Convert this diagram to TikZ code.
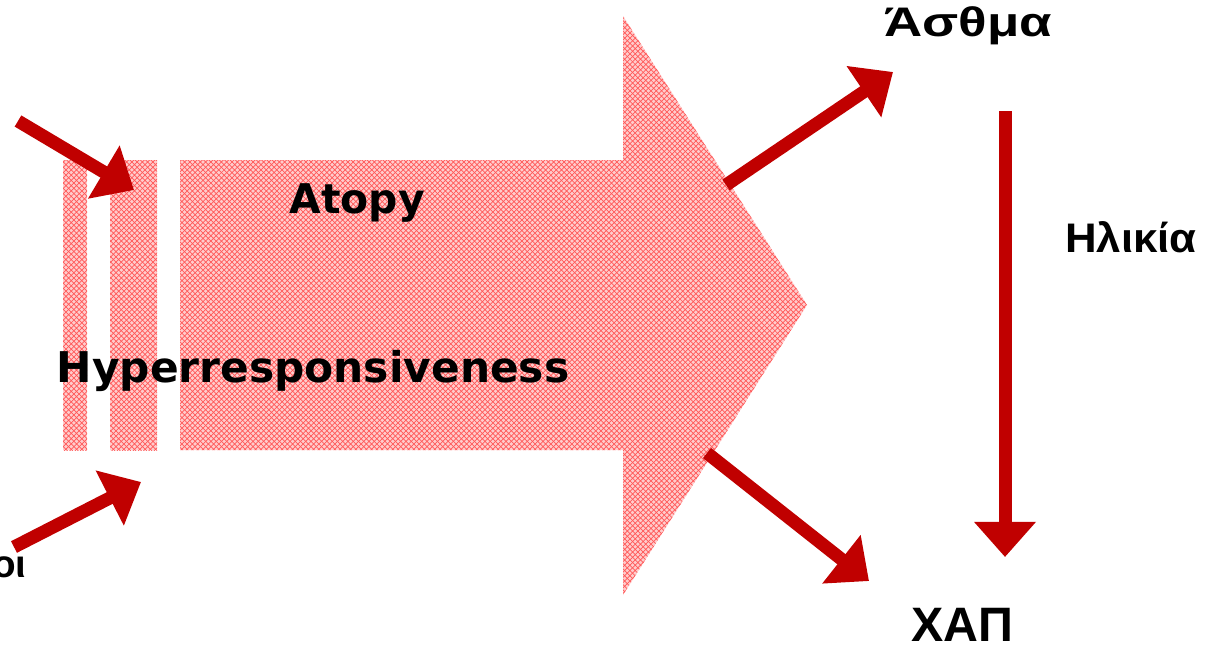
\documentclass[tikz,border=0pt]{standalone}
\usepackage{graphicx}
\usepackage{fontspec}
\setmainfont{Liberation Sans}
\newfontfamily\verd{DejaVu Sans}
\usetikzlibrary{arrows.meta,patterns}
\definecolor{arrowred}{RGB}{192,0,0}
\begin{document}
\begin{tikzpicture}[x=0.02cm,y=-0.02cm,
    redarrow/.style={arrowred, line width=7.4pt, -{Triangle[width=34pt,length=20pt]}},
    hatched/.style={fill=red!20, postaction={pattern=crosshatch, pattern color=red!65}},
    greek/.style={font=\bfseries\fontsize{23.5}{28}\selectfont, inner sep=0pt, anchor=base},
    english/.style={font=\verd\bfseries\fontsize{23.3}{28}\selectfont, inner sep=0pt, anchor=base}]
    \clip (0,0) rectangle (1207,647);
    % Juostos ir didelė rodyklė
    \fill[hatched] (63,160) rectangle (87,450);
    \fill[hatched] (110,160) rectangle (157,450);
    \fill[hatched] (180,160) -- (623,160) -- (623,16) -- (807,305) -- (623,595)
        -- (623,450) -- (180,450) -- cycle;
    \node[english] (atopy) at (357,213) {Atopy};
    \node[english, font=\verd\bfseries\fontsize{24.1}{28}\selectfont] (hyper) at (313,382) {Hyperresponsiveness};
    % Etiketės
    \node[greek] (asthma) at (968,36) {\scalebox{1.28}[1]{Άσθμα}};
    \node[greek] (age) at (1131,252) {\scalebox{1.06}[1]{Ηλικία}};
    \node[greek, font=\bfseries\fontsize{27.5}{32}\selectfont] (copd) at (962,641) {ΧΑΠ};
    \node[greek, font=\bfseries\fontsize{22}{26}\selectfont, anchor=base east] (left) at (27,577) {οι};
    % Raudonos rodyklės
    \coordinate (a1) at (18,121);   \coordinate (b1) at (134,190);
    \coordinate (a2) at (14,547);   \coordinate (b2) at (141,482);
    \coordinate (a3) at (726,185);  \coordinate (b3) at (893,72);
    \coordinate (a4) at (707,453);  \coordinate (b4) at (869,581);
    \coordinate (a5) at (1005,111); \coordinate (b5) at (1005,557);
    \foreach \i in {1,...,5}
        \draw[redarrow] (a\i) -- (b\i);
\end{tikzpicture}
\end{document}
